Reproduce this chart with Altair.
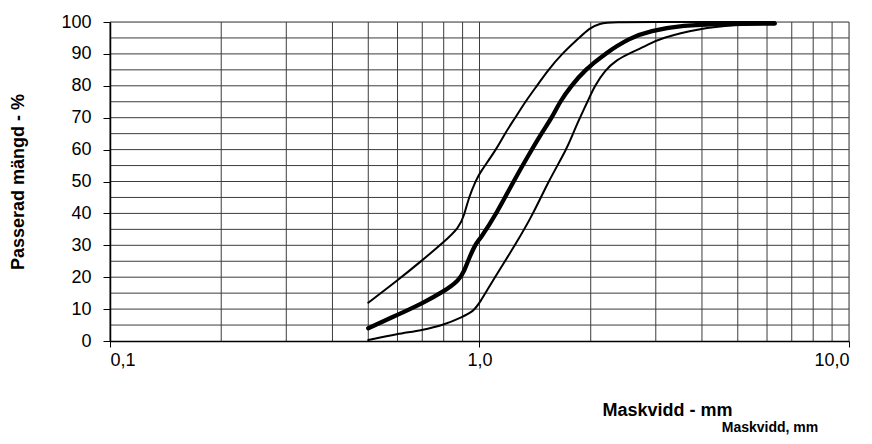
import altair as alt
import pandas as pd

# ---- data ----
upper_x = [0.5, 0.6, 0.7, 0.8, 0.88, 0.91, 0.935, 0.98, 1.0, 1.11, 1.17, 1.25, 1.33, 1.43,
           1.535, 1.67, 1.86, 1.98, 2.11, 2.3, 3.0, 4.0, 6.3]
upper_y = [12, 19, 25.3, 31, 35.5, 39.5, 45, 50.5, 52.6, 60, 65, 70, 75, 80,
           85, 90, 95, 98, 99.6, 100, 100, 100, 100]

middle_x = [0.5, 0.6, 0.7, 0.8, 0.88, 0.91, 0.94, 0.98, 1.0, 1.113, 1.235, 1.385, 1.47,
            1.57, 1.65, 1.77, 1.93, 2.18, 2.55, 2.89, 3.56, 4.5, 6.3]
middle_y = [4, 8.2, 11.8, 15.5, 19, 22, 26.4, 30.8, 31.7, 40, 50, 60, 65,
            70, 75, 80, 85, 90, 95, 97.2, 99, 99.4, 99.5]

lower_x = [0.5, 0.6, 0.7, 0.8, 0.9, 0.96, 1.0, 1.1, 1.248, 1.40, 1.535, 1.72, 1.79, 1.87,
           1.96, 2.05, 2.19, 2.35, 2.53, 2.85, 3.08, 3.95, 4.86, 6.3]
lower_y = [0.3, 2.2, 3.4, 5, 7.6, 9.2, 11.8, 20, 30, 40, 50, 60, 65, 70,
           75, 80, 85, 88.1, 90, 92.8, 94.9, 98, 99.1, 99.5]

x_grid = [0.1, 0.2, 0.3, 0.4, 0.5, 0.6, 0.7, 0.8, 0.9, 1, 2, 3, 4, 5, 6, 7, 8, 9, 10]
y_grid = list(range(5, 101, 5))
x_ticks = [0.1, 1, 10]
y_ticks = list(range(0, 101, 10))

FONT = "Liberation Sans"
xscale = alt.Scale(type="log", domain=[0.1, 10], nice=False)
yscale = alt.Scale(domain=[0, 100], nice=False)

xaxis = alt.Axis(values=x_ticks, grid=False, tickSize=6, tickColor="black",
                 domainColor="black", domainWidth=1.5, labelPadding=4, labelOverlap=False,
                 labelExpr="datum.value == 0.1 ? '0,1' : datum.value == 1 ? '1,0' : '10,0'",
                 labelFont=FONT, labelFontSize=18, labelColor="black",
                 title="Maskvidd - mm", titleFont=FONT, titleFontSize=18,
                 titleFontWeight="bold", titleColor="black",
                 titleX=557, titleY=69, titleAlign="center", titleBaseline="middle",
                 zindex=1)
yaxis = alt.Axis(values=y_ticks, grid=False, tickSize=7, tickColor="black",
                 domainColor="black", domainWidth=1.5, labelPadding=12, labelOverlap=False,
                 labelFont=FONT, labelFontSize=18, labelColor="black",
                 title="Passerad mängd - %", titleFont=FONT, titleFontSize=18,
                 titleFontWeight="bold", titleColor="black",
                 titleX=-92, titleY=159.5, titleAngle=-90, titleAlign="center",
                 titleBaseline="middle", zindex=1)

gx = alt.Chart(pd.DataFrame({"g": x_grid})).mark_rule(color="#3c3c3c", strokeWidth=1).encode(
    x=alt.X("g:Q", scale=xscale, axis=xaxis)
)
gy = alt.Chart(pd.DataFrame({"g": y_grid})).mark_rule(color="#3c3c3c", strokeWidth=1).encode(
    y=alt.Y("g:Q", scale=yscale, axis=yaxis)
)


def curve(xs, ys, width):
    d = pd.DataFrame({"mm": xs, "pct": ys})
    return alt.Chart(d).mark_line(color="black", interpolate="basis", strokeCap="round",
                                  strokeWidth=width).encode(
        x=alt.X("mm:Q", scale=xscale, axis=xaxis),
        y=alt.Y("pct:Q", scale=yscale, axis=yaxis),
    )


upper = curve(upper_x, upper_y, 2.0)
middle = curve(middle_x, middle_y, 4.3)
lower = curve(lower_x, lower_y, 2.0)

note = alt.Chart(pd.DataFrame({"t": ["Maskvidd, mm"]})).mark_text(
    font=FONT, fontSize=14, fontWeight="bold", color="black", align="center", baseline="middle"
).encode(text="t:N", x=alt.value(660), y=alt.value(406))

chart = alt.layer(gx, gy, upper, middle, lower, note).properties(
    width=739, height=319,
    autosize=alt.AutoSizeParams(type="none"),
    padding={"left": 102, "top": 14, "right": 15, "bottom": 95},
).configure_view(stroke=None).configure(background="white")

chart.save("out.html", embed_options={"renderer": "svg", "actions": False})
